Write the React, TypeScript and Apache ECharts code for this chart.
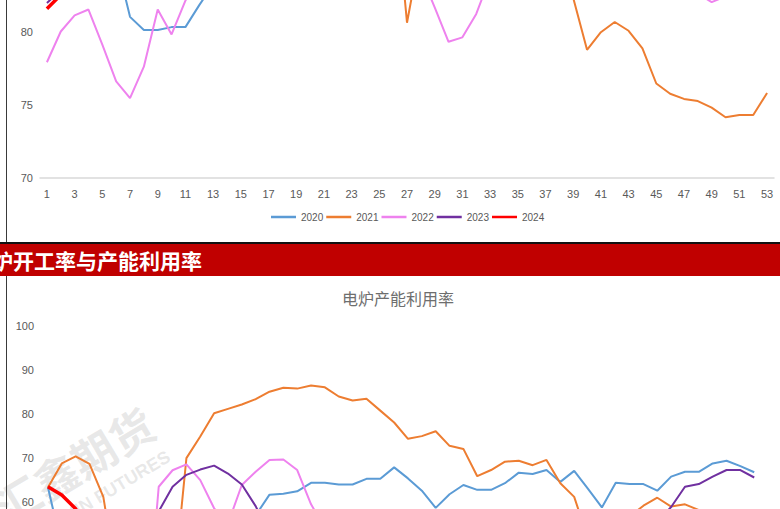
import React, { useEffect, useRef } from "react";
import * as echarts from "echarts";

const weeks = ["1","2","3","4","5","6","7","8","9","10","11","12","13","14","15","16","17","18","19","20","21","22","23","24","25","26","27","28","29","30","31","32","33","34","35","36","37","38","39","40","41","42","43","44","45","46","47","48","49","50","51","52","53"];

const seriesNames = ["2020", "2021", "2022", "2023", "2024"];
const seriesColors = ["#5B9BD5", "#ED7D31", "#EE82EE", "#7030A0", "#FF0000"];
const seriesWidths = [2, 2, 2, 2, 3.5];

// upper chart (cropped at the top)
const top2020 = [85.6, 85.2, 84.8, 84.2, 84.6, 84.9, 81.0, 80.1, 80.1, 80.3, 80.3, 81.8, 83.2, 84.5, 85.8, 87.0, 88.2, 89.0, 89.6, 90.2, 90.6, 91.0, 90.8, 91.2, 91.5, 91.0, 90.2, 89.4, 89.8, 90.2, 90.5, 90.1, 89.3, 88.8, 88.2, 87.6, 87.2, 87.5, 87.0, 86.6, 86.9, 87.1, 86.5, 86.0, 85.6, 85.1, 84.6, 84.2, 84.4, 84.0, 83.6, 83.3, null];
const top2021 = [87.0, 87.4, 86.2, 85.6, 86.4, 87.2, 88.0, 88.8, 88.4, 89.0, 89.6, 90.0, 90.4, 91.0, 91.4, 91.0, 91.6, 92.0, 91.8, 91.4, 91.0, 91.4, 91.0, 90.6, 90.4, 90.8, 80.6, 85.7, 86.4, 87.0, 86.2, 85.6, 85.0, 84.6, 84.2, 84.5, 84.0, 83.6, 82.3, 78.75, 79.95, 80.65, 80.05, 78.85, 76.45, 75.75, 75.4, 75.25, 74.8, 74.15, 74.3, 74.3, 75.8];
const top2022 = [77.9, 80.0, 81.1, 81.5, 79.1, 76.6, 75.45, 77.6, 81.5, 79.8, 82.1, 84.0, 85.4, 86.5, 87.4, 88.4, 89.0, 89.4, 89.0, 88.4, 88.0, 87.4, 86.6, 85.6, 85.0, 84.6, 84.2, 83.9, 81.65, 79.3, 79.6, 81.2, 83.7, 84.4, 85.0, 85.4, 85.8, 85.4, 85.0, 84.6, 84.4, 84.0, 83.6, 83.4, 83.0, 82.8, 82.7, 82.6, 82.0, 82.4, 82.25, 82.6, null];
const top2023 = [81.95, 82.8, 83.6, 84.2, 84.8, 85.6, 86.6, 87.6, 88.4, 89.0, 89.6, 90.2, 90.6, 91.0, 91.4, 91.8, 92.0, 91.6, 91.2, 91.0, 91.4, 91.8, 92.0, 91.6, 91.2, 91.0, 91.4, 91.8, 92.0, 91.8, 91.4, 91.0, 90.6, 90.4, 90.0, 89.6, 89.0, 88.6, 88.0, 87.6, 87.0, 86.6, 86.0, 85.6, 85.0, 84.6, 84.4, 84.0, 83.8, 83.5, 83.3, 83.2, null];
const top2024 = [81.55, 82.5, 83.4, 84.2, 84.8];
const topTicks = { min: 70, max: 95, interval: 5, visibleMin: 70, visibleMax: 80 };

// 电炉产能利用率 (cropped at the bottom)
const bot2020 = [63.3, 49.7, 30.5, 18.2, 14.6, 17.8, 24.5, 32.6, 39.8, 44.5, 48.2, 51.4, 53.2, 54.8, 55.9, 56.9, 61.6, 61.8, 62.35, 64.3, 64.3, 63.9, 63.9, 65.2, 65.2, 67.8, 65.3, 62.5, 58.6, 61.7, 63.8, 62.7, 62.7, 64.2, 66.6, 66.3, 67.2, 64.5, 67.0, 62.9, 58.7, 64.3, 64.0, 64.0, 62.5, 65.7, 66.8, 66.8, 68.7, 69.3, 68.1, 66.7, null];
const bot2021 = [63.2, 68.7, 70.3, 68.6, 61.1, 42.0, 34.5, 30.2, 33.6, 38.0, 69.9, 74.8, 80.1, 81.1, 82.1, 83.3, 85.0, 85.9, 85.7, 86.4, 86.0, 83.9, 83.0, 83.4, 80.7, 78.0, 74.3, 74.9, 76.0, 72.7, 72.0, 65.8, 67.2, 69.1, 69.3, 68.3, 69.5, 64.2, 61.1, 51.6, 47.2, 50.1, 56.6, 59.1, 60.9, 58.9, 59.4, 58.1, 55.2, 53.4, 51.8, 50.6, 49.5];
const bot2022 = [44.5, 42.0, 38.6, 33.2, 27.5, 23.8, 22.4, 26.0, 63.4, 67.15, 68.5, 64.9, 58.5, 55.0, 63.8, 66.8, 69.5, 69.6, 67.2, 59.4, 54.0, 49.5, 45.6, 42.2, 39.4, 37.5, 36.2, 35.8, 37.4, 39.5, 41.8, 43.6, 45.0, 46.2, 47.5, 48.6, 49.2, 50.1, 51.4, 50.8, 49.6, 48.7, 47.5, 46.2, 45.4, 44.8, 44.1, 43.2, 42.6, 41.8, 40.5, 39.6, null];
const bot2023 = [46.2, 43.5, 40.8, 38.2, 36.5, 38.4, 42.6, 48.5, 57.8, 63.4, 66.1, 67.3, 68.2, 66.4, 63.9, 59.0, 52.5, 50.2, 49.6, 50.4, 51.2, 50.5, 49.4, 48.6, 47.2, 46.5, 45.8, 46.4, 47.6, 48.5, 49.2, 48.6, 47.8, 48.9, 50.2, 51.0, 50.6, 49.8, 50.4, 51.6, 52.4, 53.0, 53.8, 54.6, 55.4, 58.8, 63.4, 64.0, 65.7, 67.2, 67.2, 65.5, null];
const bot2024 = [63.4, 61.5, 58.4, 52.6, 45.2];
const botTicks = { min: 0, max: 100, interval: 10, visibleMin: 60, visibleMax: 100 };

const bottomTitle = "电炉产能利用率";
const bannerText = "炉开工率与产能利用率";
const watermarkCn = "汇鑫期货";
const watermarkEn = "HUIXIN FUTURES";

const labelFont = "'Liberation Sans', Arial, sans-serif";
const cjkFont = "'Noto Sans CJK SC', sans-serif";

function buildSeries(data: (number | null)[][]) {
  return seriesNames.map((name, i) => ({
    name,
    type: "line",
    data: data[i],
    symbol: "none",
    showSymbol: false,
    lineStyle: { color: seriesColors[i], width: seriesWidths[i] },
    itemStyle: { color: seriesColors[i] },
    z: 2 + i,
  }));
}

function baseOption(
  data: (number | null)[][],
  ticks: { min: number; max: number; interval: number; visibleMin: number; visibleMax: number },
  gridTop: number,
  gridHeight: number,
  gridLeft: number,
  legendTop: number,
  showBottomParts: boolean
) {
  return {
    animation: false,
    grid: { left: gridLeft, width: 734, top: gridTop, height: gridHeight },
    xAxis: {
      type: "category",
      data: weeks,
      boundaryGap: true,
      axisLine: { lineStyle: { color: "#d9d9d9", width: 1.5 } },
      axisTick: { show: false },
      axisLabel: {
        show: showBottomParts,
        interval: 1,
        color: "#595959",
        fontSize: 11,
        margin: 10,
        fontFamily: labelFont,
      },
      splitLine: { show: false },
    },
    yAxis: {
      type: "value",
      min: ticks.min,
      max: ticks.max,
      interval: ticks.interval,
      axisLine: { show: false },
      axisTick: { show: false },
      splitLine: { show: false },
      axisLabel: {
        color: "#595959",
        fontSize: 11,
        margin: 7,
        fontFamily: labelFont,
        formatter: (v: number) => (v >= ticks.visibleMin && v <= ticks.visibleMax ? String(v) : ""),
      },
    },
    legend: {
      show: showBottomParts,
      data: seriesNames,
      left: 266,
      top: legendTop,
      icon: "rect",
      itemWidth: 25,
      itemHeight: 2.5,
      itemGap: 3,
      textStyle: { color: "#595959", fontSize: 10, fontFamily: labelFont },
    },
    series: buildSeries(data),
  };
}

function Chart({ option, style }: { option: any; style: React.CSSProperties }) {
  const ref = useRef<HTMLDivElement>(null);
  useEffect(() => {
    if (!ref.current) return;
    const chart = echarts.init(ref.current, undefined, { renderer: "svg" });
    chart.setOption(option);
    return () => chart.dispose();
  }, [option]);
  return <div ref={ref} style={style} />;
}

const topOption = baseOption(
  [top2020, top2021, top2022, top2023, top2024],
  topTicks,
  11.75,
  366.25,
  40,
  407,
  true
);

const bottomOption: any = {
  ...baseOption([bot2020, bot2021, bot2022, bot2023, bot2024], botTicks, 49.7, 440, 41, 525, false),
  title: {
    text: bottomTitle,
    left: 337,
    top: 9,
    textStyle: { color: "#6e6e6e", fontSize: 16, fontWeight: "normal", fontFamily: cjkFont },
  },
  graphic: [
    {
      type: "text",
      x: 74,
      y: 188,
      rotation: 0.54,
      z: 0,
      style: {
        text: watermarkCn,
        fill: "rgba(150,150,150,0.22)",
        font: "bold 44px 'Noto Sans CJK SC', sans-serif",
        textAlign: "center",
        textVerticalAlign: "middle",
      },
    },
    {
      type: "text",
      x: 104,
      y: 218,
      rotation: 0.54,
      z: 0,
      style: {
        text: watermarkEn,
        fill: "rgba(150,150,150,0.22)",
        font: "bold 18px 'Liberation Sans', sans-serif",
        textAlign: "center",
        textVerticalAlign: "middle",
      },
    },
  ],
};

export default function App() {
  return (
    <div
      style={{
        position: "fixed",
        left: 0,
        top: 0,
        width: 780,
        height: 509,
        overflow: "hidden",
        background: "#ffffff",
      }}
    >
      <Chart option={topOption} style={{ position: "absolute", left: 0, top: -200, width: 780, height: 440 }} />
      <Chart option={bottomOption} style={{ position: "absolute", left: 0, top: 276, width: 780, height: 500 }} />
      <div style={{ position: "absolute", left: 6, top: 0, width: 1, height: 509, background: "#3a3a3a" }} />
      <div style={{ position: "absolute", left: 0, top: 242, width: 780, height: 2, background: "#111" }} />
      <div
        style={{
          position: "absolute",
          left: 0,
          top: 244,
          width: 780,
          height: 32,
          background: "#C00000",
          overflow: "hidden",
        }}
      >
        <span
          style={{
            position: "absolute",
            left: -8,
            top: 0,
            lineHeight: "32px",
            color: "#ffffff",
            fontWeight: "bold",
            fontSize: 21,
            fontFamily: cjkFont,
            whiteSpace: "nowrap",
          }}
        >
          {bannerText}
        </span>
      </div>
    </div>
  );
}
